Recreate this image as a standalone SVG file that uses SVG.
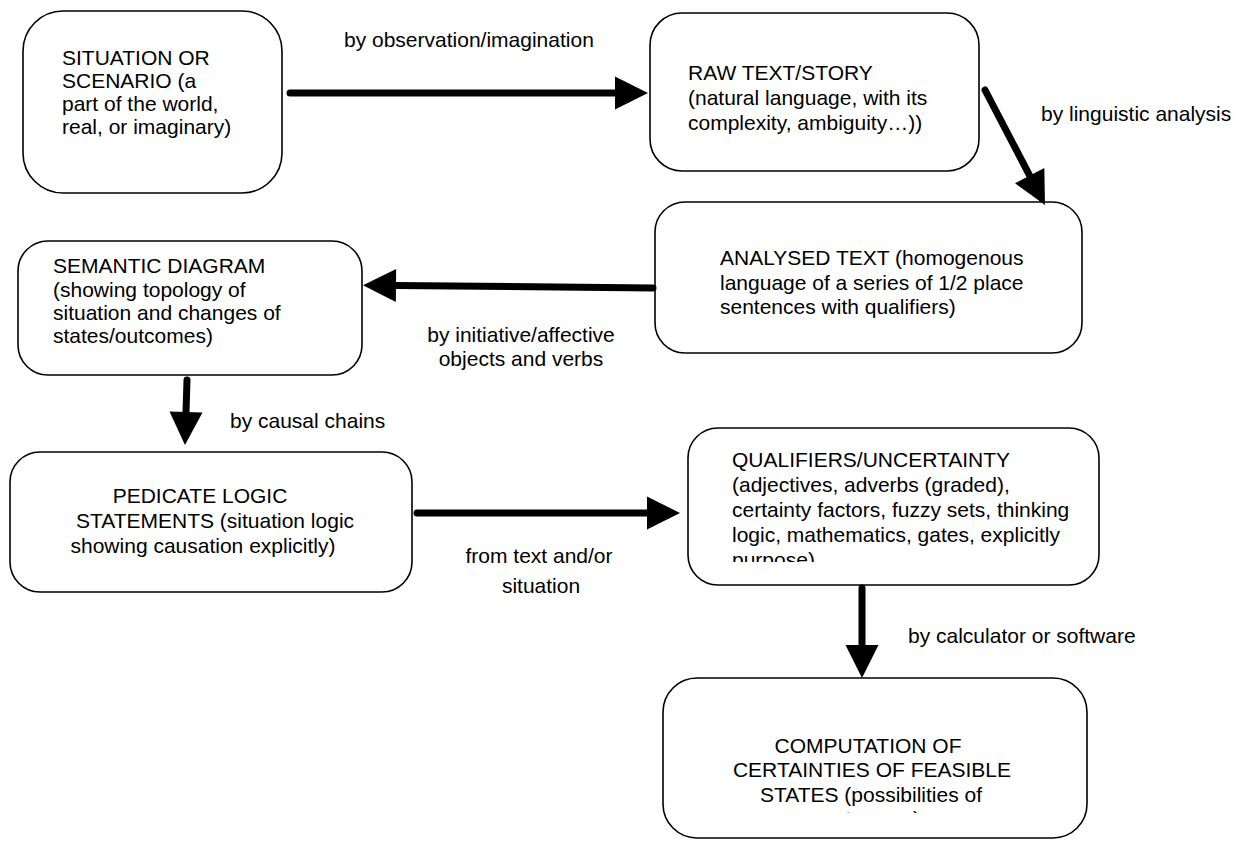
<svg xmlns="http://www.w3.org/2000/svg" width="1246" height="841" viewBox="0 0 1246 841">
  <style>
    .box { fill: #ffffff; stroke: #000000; stroke-width: 1.6; }
    .t { font-family: "Liberation Sans", Arial, sans-serif; font-size: 21px; fill: #000000; }
    .c { text-anchor: middle; }
    .conn { stroke: #000000; stroke-width: 7; stroke-linecap: round; fill: none; marker-end: url(#head); }
  </style>
  <defs>
    <marker id="head" markerUnits="userSpaceOnUse" markerWidth="34" markerHeight="34" refX="0" refY="16.5" orient="auto" overflow="visible">
      <path d="M0,0 L33,16.5 L0,33 Z" fill="#000000"/>
    </marker>
    <clipPath id="clipQual"><rect x="688" y="428" width="412" height="134"/></clipPath>
    <clipPath id="clipComp"><rect x="663" y="678" width="424" height="135"/></clipPath>
  </defs>
  <rect width="1246" height="841" fill="#ffffff"/>

  <g id="situation">
    <rect class="box" x="23" y="11" width="259" height="182" rx="40" ry="40"/>
    <text class="t"><tspan x="62" y="65">SITUATION OR</tspan><tspan x="62" y="88">SCENARIO (a</tspan><tspan x="62" y="111">part of the world,</tspan><tspan x="62" y="134">real, or imaginary)</tspan></text>
  </g>

  <g id="raw-text">
    <rect class="box" x="650" y="13" width="329" height="158" rx="32" ry="32"/>
    <text class="t"><tspan x="688" y="80">RAW TEXT/STORY</tspan><tspan x="688" y="105">(natural language, with its</tspan><tspan x="688" y="130">complexity, ambiguity…))</tspan></text>
  </g>

  <g id="analysed-text">
    <rect class="box" x="655" y="202" width="427" height="151" rx="30" ry="30"/>
    <text class="t"><tspan x="720" y="265">ANALYSED TEXT (homogenous</tspan><tspan x="720" y="290">language of a series of 1/2 place</tspan><tspan x="720" y="314">sentences with qualifiers)</tspan></text>
  </g>

  <g id="semantic-diagram">
    <rect class="box" x="18" y="241" width="344" height="134" rx="30" ry="30"/>
    <text class="t"><tspan x="53" y="273">SEMANTIC DIAGRAM</tspan><tspan x="53" y="297">(showing topology of</tspan><tspan x="53" y="320">situation and changes of</tspan><tspan x="53" y="343">states/outcomes)</tspan></text>
  </g>

  <g id="predicate-logic">
    <rect class="box" x="10" y="452" width="402" height="140" rx="30" ry="30"/>
    <text class="t c"><tspan x="200" y="503">PEDICATE LOGIC</tspan><tspan x="215" y="528">STATEMENTS (situation logic</tspan><tspan x="203" y="553">showing causation explicitly)</tspan></text>
  </g>

  <g id="qualifiers">
    <rect class="box" x="688" y="428" width="411" height="157" rx="30" ry="30"/>
    <text class="t" clip-path="url(#clipQual)"><tspan x="732" y="467">QUALIFIERS/UNCERTAINTY</tspan><tspan x="732" y="492">(adjectives, adverbs (graded),</tspan><tspan x="732" y="517">certainty factors, fuzzy sets, thinking</tspan><tspan x="732" y="542">logic, mathematics, gates, explicitly</tspan><tspan x="732" y="567">purpose)</tspan></text>
  </g>

  <g id="computation">
    <rect class="box" x="663" y="678" width="424" height="160" rx="34" ry="34"/>
    <text class="t c" clip-path="url(#clipComp)"><tspan x="868" y="753">COMPUTATION OF</tspan><tspan x="872" y="777">CERTAINTIES OF FEASIBLE</tspan><tspan x="871" y="802">STATES (possibilities of</tspan><tspan x="871" y="826">outcomes)</tspan></text>
  </g>

  <g id="connectors">
    <line class="conn" x1="290" y1="93" x2="615" y2="93"/>
    <line class="conn" x1="985" y1="90" x2="1029.7" y2="175.7"/>
    <line class="conn" x1="653" y1="288" x2="396" y2="285.5"/>
    <line class="conn" x1="187" y1="380" x2="186" y2="412"/>
    <line class="conn" x1="417" y1="513" x2="647" y2="513"/>
    <line class="conn" x1="862" y1="588" x2="862" y2="645"/>
  </g>

  <g id="connector-labels">
    <text class="t" x="344" y="47">by observation/imagination</text>
    <text class="t" x="1041" y="121">by linguistic analysis</text>
    <text class="t c"><tspan x="521" y="342">by initiative/affective</tspan><tspan x="521" y="366">objects and verbs</tspan></text>
    <text class="t" x="230" y="428">by causal chains</text>
    <text class="t c"><tspan x="539" y="563">from text and/or</tspan><tspan x="541" y="593">situation</tspan></text>
    <text class="t" x="908" y="643">by calculator or software</text>
  </g>
</svg>
